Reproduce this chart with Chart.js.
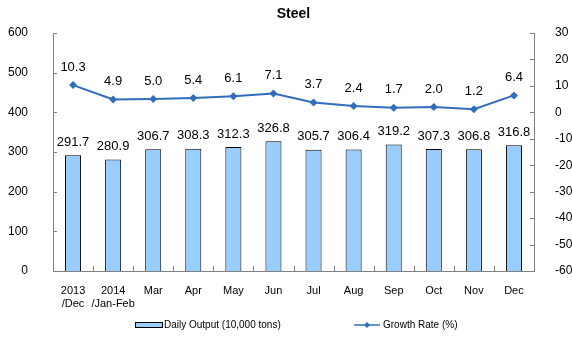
<!DOCTYPE html>
<html>
<head>
<meta charset="utf-8">
<title>Steel</title>
<script src="https://cdn.jsdelivr.net/npm/chart.js@4.4.1/dist/chart.umd.min.js"></script>
<style>
  html, body { margin: 0; padding: 0; background: #fff; }
  #wrap { width: 572px; height: 339px; position: relative; }
</style>
</head>
<body>
<div id="wrap"><canvas id="steelChart"></canvas></div>
<script>
// months (first two span two lines)
const months = [
  ["2013", "/Dec"], ["2014", "/Jan-Feb"], "Mar", "Apr", "May", "Jun",
  "Jul", "Aug", "Sep", "Oct", "Nov", "Dec"
];
// daily output, 10,000 tons
const dailyOutput = [291.7, 280.9, 306.7, 308.3, 312.3, 326.8, 305.7, 306.4, 319.2, 307.3, 306.8, 316.8];
// year-on-year growth, %
const growthRate = [10.3, 4.9, 5.0, 5.4, 6.1, 7.1, 3.7, 2.4, 1.7, 2.0, 1.2, 6.4];

const outputTicks = { min: 0, max: 600, step: 100 };
const growthTicks = { min: -60, max: 30, step: 10 };

const FONT = "'Liberation Sans', Arial, sans-serif";
const BAR_FILL = "#99CCFF";
const LINE_COLOR = "#2F6EBA";
const AXIS_COLOR = "#808080";

// small tick marks pointing into the plot
const innerTicks = {
  id: "innerTicks",
  afterDraw(chart) {
    const { ctx, chartArea, scales } = chart;
    ctx.save();
    ctx.strokeStyle = AXIS_COLOR;
    ctx.lineWidth = 1;
    ctx.beginPath();
    scales.y.ticks.forEach(t => {
      const y = Math.round(scales.y.getPixelForValue(t.value)) + 0.5;
      ctx.moveTo(chartArea.left, y); ctx.lineTo(chartArea.left + 4, y);
    });
    scales.y1.ticks.forEach(t => {
      const y = Math.round(scales.y1.getPixelForValue(t.value)) + 0.5;
      ctx.moveTo(chartArea.right, y); ctx.lineTo(chartArea.right - 4, y);
    });
    for (let i = 1; i < months.length; i++) {
      const x = Math.round((scales.x.getPixelForValue(i - 1) + scales.x.getPixelForValue(i)) / 2) + 0.5;
      ctx.moveTo(x, chartArea.bottom); ctx.lineTo(x, chartArea.bottom - 5);
    }
    ctx.stroke();
    ctx.restore();
  }
};

// value labels above bars and points
const valueLabels = {
  id: "valueLabels",
  afterDatasetsDraw(chart) {
    const { ctx } = chart;
    ctx.save();
    ctx.fillStyle = "#000";
    ctx.font = "13px " + FONT;
    ctx.textAlign = "center";
    ctx.textBaseline = "middle";
    chart.data.datasets.forEach((ds, di) => {
      const meta = chart.getDatasetMeta(di);
      const off = ds.type === "line" ? 18 : 13;
      meta.data.forEach((el, i) => {
        ctx.fillText(ds.data[i].toFixed(1), el.x, el.y - off);
      });
    });
    ctx.restore();
  }
};

// title and legend
const decorations = {
  id: "decorations",
  afterDraw(chart) {
    const { ctx, chartArea } = chart;
    const bar = chart.data.datasets.find(d => d.type === "bar");
    const line = chart.data.datasets.find(d => d.type === "line");
    ctx.save();
    ctx.fillStyle = "#000";
    ctx.font = "bold 14px " + FONT;
    ctx.textAlign = "center";
    ctx.textBaseline = "middle";
    ctx.fillText("Steel", (chartArea.left + chartArea.right) / 2, 14);

    const ly = 325;
    ctx.fillStyle = BAR_FILL;
    ctx.fillRect(135, ly - 3, 28, 6);
    ctx.strokeStyle = "#000";
    ctx.lineWidth = 1;
    ctx.strokeRect(135.5, ly - 2.5, 27, 5);

    ctx.strokeStyle = LINE_COLOR;
    ctx.lineWidth = 1.5;
    ctx.beginPath();
    ctx.moveTo(354, ly); ctx.lineTo(380, ly);
    ctx.stroke();
    ctx.fillStyle = LINE_COLOR;
    ctx.beginPath();
    ctx.moveTo(367, ly - 3); ctx.lineTo(370, ly); ctx.lineTo(367, ly + 3); ctx.lineTo(364, ly);
    ctx.closePath();
    ctx.fill();

    ctx.fillStyle = "#000";
    ctx.font = "10px " + FONT;
    ctx.textAlign = "left";
    ctx.fillText(bar.label, 164, ly);
    ctx.fillText(line.label, 383, ly);
    ctx.restore();
  }
};

new Chart(document.getElementById("steelChart"), {
  data: {
    labels: months,
    datasets: [
      {
        type: "line",
        label: "Growth Rate (%)",
        data: growthRate,
        yAxisID: "y1",
        borderColor: LINE_COLOR,
        backgroundColor: LINE_COLOR,
        borderWidth: 2,
        pointStyle: "rectRot",
        pointRadius: 4,
        pointBorderWidth: 0,
        tension: 0,
        order: 0
      },
      {
        type: "bar",
        label: "Daily Output (10,000 tons)",
        data: dailyOutput,
        yAxisID: "y",
        backgroundColor: BAR_FILL,
        borderColor: "#000",
        borderWidth: 1,
        barPercentage: 0.4,
        categoryPercentage: 1,
        order: 1
      }
    ]
  },
  options: {
    responsive: true,
    maintainAspectRatio: false,
    animation: false,
    layout: { padding: { top: 33, left: 0, right: 0, bottom: 0 } },
    plugins: { legend: { display: false }, tooltip: { enabled: false } },
    scales: {
      x: {
        offset: true,
        grid: { display: false },
        border: { color: AXIS_COLOR },
        ticks: { color: "#000", font: { family: FONT, size: 11 }, padding: 5, maxRotation: 0, autoSkip: false },
        afterFit(s) { s.height = 68; }
      },
      y: {
        position: "left",
        min: outputTicks.min,
        max: outputTicks.max,
        grid: { display: false },
        border: { color: AXIS_COLOR },
        ticks: { stepSize: outputTicks.step, color: "#000", font: { family: FONT, size: 12 }, padding: 17 },
        afterFit(s) { s.width = 53; }
      },
      y1: {
        position: "right",
        min: growthTicks.min,
        max: growthTicks.max,
        grid: { display: false },
        border: { color: AXIS_COLOR },
        ticks: { stepSize: growthTicks.step, color: "#000", font: { family: FONT, size: 12 }, padding: 13 },
        afterFit(s) { s.width = 38; }
      }
    }
  },
  plugins: [innerTicks, valueLabels, decorations]
});
</script>
</body>
</html>
